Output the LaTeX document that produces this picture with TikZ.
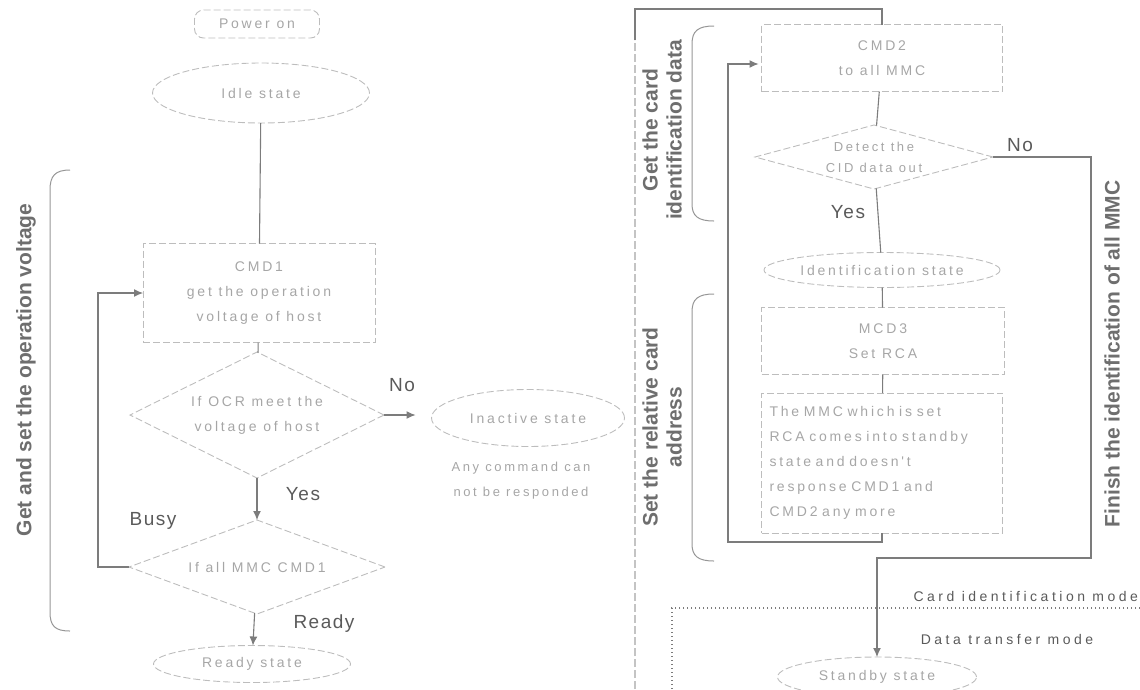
\documentclass[tikz,border=0pt]{standalone}
\usepackage{fontspec}
\setmainfont{Liberation Sans}
\newfontfamily\nodefont[LetterSpace=20]{Liberation Sans}
\newfontfamily\labelfont[LetterSpace=8]{Liberation Sans}
\newfontfamily\modefont[LetterSpace=25]{Liberation Sans}
\usetikzlibrary{shapes.geometric,arrows.meta,calc}

\definecolor{boxline}{HTML}{BDBDBD}
\definecolor{boxtext}{HTML}{A6A6A6}
\definecolor{wire}{HTML}{7C7C7C}
\definecolor{tiptext}{HTML}{5A5A5A}
\definecolor{titletext}{HTML}{6E6E6E}

\begin{document}
\begin{tikzpicture}[x=1pt,y=-1pt,
  every node/.style={inner sep=0pt,outer sep=0pt},
  nodetxt/.style={font=\nodefont\fontsize{14}{25}\selectfont,text=boxtext,align=center},
  outline/.style={draw=boxline,line width=0.9pt,dash pattern=on 7pt off 3pt},
  statenode/.style={nodetxt,outline,ellipse},
  procbox/.style={nodetxt,outline,rectangle},
  decision/.style={outline,diamond},
  wireline/.style={draw=wire,line width=1.1pt},
  flow/.style={wireline,-{Latex[length=9pt,width=8pt]}},
  answer/.style={font=\labelfont\fontsize{19}{22}\selectfont,text=tiptext},
  phase/.style={font=\bfseries\fontsize{21}{24}\selectfont,text=titletext,align=center,rotate=90},
  modelabel/.style={font=\modefont\fontsize{14}{16}\selectfont,text=tiptext},
  bracket/.style={draw=wire!80,line width=1pt}
]
\useasboundingbox (0,0) rectangle (1140,689);

% ---------- left column: operating voltage ----------
\node[procbox,rounded corners=9pt,minimum width=125pt,minimum height=28pt] (power) at (257,24) {Power on};
\node[statenode,minimum width=217pt,minimum height=60pt] (idle) at (261,93) {Idle state};
\node[procbox,minimum width=232pt,minimum height=99pt] (cmd1) at (259,293) {CMD1\\get the operation\\voltage of host};
\node[decision,minimum width=254pt,minimum height=126pt] (d1) at (257,415) {};
\node[nodetxt] (d1txt) at (d1) {If OCR meet the\\voltage of host};
\node[statenode,minimum width=193pt,minimum height=57pt] (inactive) at (528,418) {Inactive state};
\node[nodetxt,font=\nodefont\fontsize{13}{25}\selectfont] (anycmd) at (521,481) {Any command can\\not be responded};
\node[decision,minimum width=256pt,minimum height=94pt] (d2) at (257,567) {};
\node[nodetxt] (d2txt) at (d2) {If all MMC CMD1};
\node[statenode,minimum width=197pt,minimum height=37pt] (ready) at (252,664) {Ready state};

\draw[wireline] (idle) -- (cmd1);
\draw[wireline] (cmd1) -- (d1);
\draw[flow,shorten >=16pt] (d1.east) -- (d1.east -| inactive.west);
\draw[flow] (d1) -- (d2);
\draw[flow] (d2) -- (ready);
\coordinate (busyturn) at (98,567);
\draw[flow] (d2.west) -- (busyturn) |- (cmd1.west);

\node[answer] (lno) at (402,385) {No};
\node[answer] (lyes) at (303,494) {Yes};
\node[answer] (lbusy) at (153,521) {Busy};
\node[answer] (lready) at (324,624) {Ready};

\draw[bracket] (70,170) .. controls (55,170) and (50,176) .. (50,190) -- (50,612) .. controls (50,626) and (55,631) .. (70,631);
\node[phase] (tvolt) at (26,370) {Get and set the operation voltage};

% ---------- divider and feed into the right column ----------
\coordinate (divbot) at (635,689);
\coordinate (divtop) at (635,9);

% ---------- right column: card identification ----------
\node[procbox,minimum width=241pt,minimum height=67pt] (cmd2) at (882,58) {CMD2\\to all MMC};
\node[decision,minimum width=238pt,minimum height=64pt] (d3) at (874,157) {};
\node[nodetxt,font=\nodefont\fontsize{13}{21}\selectfont] (d3txt) at (d3) {Detect the\\CID data out};
\node[statenode,minimum width=236pt,minimum height=35pt] (ident) at (882,270) {Identification state};
\node[procbox,minimum width=243pt,minimum height=67pt] (mcd3) at (883,341) {MCD3\\Set RCA};
\node[procbox,minimum width=241pt,minimum height=140pt,align=left,text width=225pt] (mmc) at (882,463)
  {The MMC which is set\\RCA comes into standby\\state and doesn't\\response CMD1 and\\CMD2 any more};
\node[statenode,minimum width=199pt,minimum height=40pt] (standby) at (877,677) {Standby state};

\draw[wireline,draw=wire!45,dash pattern=on 8pt off 3pt] (divbot) -- (635,40);
\draw[wireline] (635,40) -- (divtop) -| (cmd2.north);
\draw[wireline] (cmd2) -- (d3);
\draw[wireline] (d3) -- (ident);
\draw[wireline] (ident) -- (mcd3);
\draw[wireline] (mcd3) -- (mmc);
\coordinate (idturn) at (728,542);
\draw[flow] (mmc.south) |- (idturn) |- ($(cmd2.west)+(-3,6)$);
\coordinate (doneturn) at (1091,558);
\draw[flow] (d3.east) -| (doneturn) -| (standby.north);

\node[answer] (rno) at (1020,145) {No};
\node[answer] (ryes) at (848,212) {Yes};

\draw[bracket] (714,26) .. controls (698,26) and (692,31) .. (692,44) -- (692,204) .. controls (692,216) and (698,221) .. (714,221);
\node[phase] (tcid) at (662,130) {Get the card\\identification data};
\draw[bracket] (714,294) .. controls (698,294) and (692,299) .. (692,312) -- (692,544) .. controls (692,556) and (698,561) .. (714,561);
\node[phase] (trca) at (662,427) {Set the relative card\\address};
\node[phase] (tall) at (1112,354) {Finish the identification of all MMC};

% ---------- mode boundary ----------
\draw[draw=wire,line width=1.3pt,dash pattern=on 1.3pt off 2.7pt] (1140,608) -- (672,608) -- (672,689);
\node[modelabel,anchor=east] (cimode) at (1138,596) {Card identification mode};
\node[modelabel] (dtmode) at (1007,639) {Data transfer mode};

\end{tikzpicture}
\end{document}
